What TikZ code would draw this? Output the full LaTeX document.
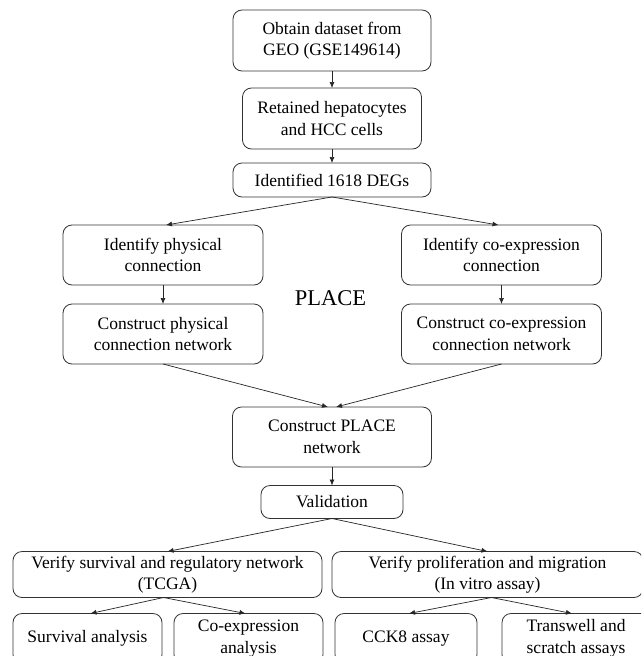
\documentclass[tikz,border=0pt]{standalone}
\usepackage{fontspec}
\setmainfont{Liberation Serif}
\usetikzlibrary{arrows.meta,positioning}

\begin{document}
\begin{tikzpicture}[
		x=1pt, y=-1pt,
		%--- Node Styles ---------------------------------------------------
		stepnode/.style={
			rectangle,
			rounded corners=9pt,
			draw=black!80,
			line width=0.8pt,
			align=center,
			inner sep=2pt,
			outer sep=0pt,
			font=\fontsize{17.5}{21.5}\selectfont
		},
		widebox/.style={
			stepnode,
			minimum width=200pt,
			minimum height=60pt
		},
		leafbox/.style={
			stepnode,
			minimum height=50pt
		},
		%--- Arrow Styles --------------------------------------------------
		flowarrow/.style={
			-{Latex[length=6pt,width=5pt]},
			line width=0.7pt,
			draw=black!85
		},
		%--- Label Style ---------------------------------------------------
		sectionlabel/.style={
			font=\fontsize{22.5}{27}\selectfont,
			anchor=base
		}
		]
		
		\useasboundingbox[fill=white] (0,0) rectangle (641,656);
		\clip (0,0) rectangle (641,656);
		
		%--- Main Column Nodes (top) -------------------------------------------
		
		\node[stepnode, minimum width=198pt, minimum height=61pt] (obtain) at (332,40.5)
		{Obtain dataset from\\GEO (GSE149614)};
		
		\node[stepnode, minimum width=179pt, minimum height=61pt, below=17pt of obtain] (retain)
		{Retained hepatocytes\\and HCC cells};
		
		\node[stepnode, minimum width=198pt, minimum height=34pt, below=14pt of retain] (degs)
		{Identified 1618 DEGs};
		
		%--- PLACE Branches ----------------------------------------------------
		
		\node[widebox, below=28pt of degs, xshift=-169pt] (physid)
		{Identify physical\\connection};
		
		\node[widebox, below=28pt of degs, xshift=169.5pt] (coexid)
		{Identify co-expression\\connection};
		
		\node[widebox, below=19pt of physid] (physnet)
		{Construct physical\\connection network};
		
		\node[widebox, below=19pt of coexid] (coexnet)
		{Construct co-expression\\connection network};
		
		\node[sectionlabel] (placelbl) at (330.5,305) {PLACE};
		
		%--- Merged Network and Validation -------------------------------------
		
		\coordinate (merge) at (physnet.south -| degs.south);
		
		\node[stepnode, minimum width=199pt, minimum height=60pt, below=43pt of merge] (place)
		{Construct PLACE\\network};
		
		\node[stepnode, minimum width=142pt, minimum height=33pt, below=18.5pt of place] (valid)
		{Validation};
		
		\node[stepnode, minimum width=309pt, minimum height=46pt, below=33pt of valid, xshift=-164.5pt] (tcga)
		{Verify survival and regulatory network\\(TCGA)};
		
		\node[stepnode, minimum width=311pt, minimum height=46pt, below=33pt of valid, xshift=155.5pt] (vitro)
		{Verify proliferation and migration\\(In vitro assay)};
		
		%--- Leaf Nodes (cut by the page edge) ---------------------------------
		
		\node[leafbox, minimum width=149pt, below=16pt of tcga, xshift=-80pt] (surv)
		{Survival analysis};
		
		\node[leafbox, minimum width=149pt, below=16pt of tcga, xshift=81pt] (coexa)
		{Co-expression\\analysis};
		
		\node[leafbox, minimum width=142pt, below=16pt of vitro, xshift=-81.5pt] (cck)
		{CCK8 assay};
		
		\node[leafbox, minimum width=148pt, below=16pt of vitro, xshift=88.5pt] (transw)
		{Transwell and\\scratch assays};
		
		%--- Arrows ------------------------------------------------------------
		
		\draw[flowarrow] (obtain) -- (retain);
		\draw[flowarrow] (retain) -- (degs);
		\draw[flowarrow] (degs.south) -- ([xshift=3pt]physid.north);
		\draw[flowarrow] (degs.south) -- ([xshift=-3pt]coexid.north);
		\draw[flowarrow] (physid) -- (physnet);
		\draw[flowarrow] (coexid) -- (coexnet);
		\draw[flowarrow] (physnet.south) -- ([xshift=-4pt]place.north);
		\draw[flowarrow] (coexnet.south) -- ([xshift=4pt]place.north);
		\draw[flowarrow] (place) -- (valid);
		\draw[flowarrow] (valid.south) -- (tcga.north);
		\draw[flowarrow] (valid.south) -- (vitro.north);
		\draw[flowarrow] ([xshift=-4pt]tcga.south) -- ([xshift=3pt]surv.north);
		\draw[flowarrow] ([xshift=-4pt]tcga.south) -- ([xshift=-3pt]coexa.north);
		\draw[flowarrow] ([xshift=4pt]vitro.south) -- ([xshift=3pt]cck.north);
		\draw[flowarrow] ([xshift=4pt]vitro.south) -- ([xshift=-4pt]transw.north);
		
	\end{tikzpicture}
\end{document}
